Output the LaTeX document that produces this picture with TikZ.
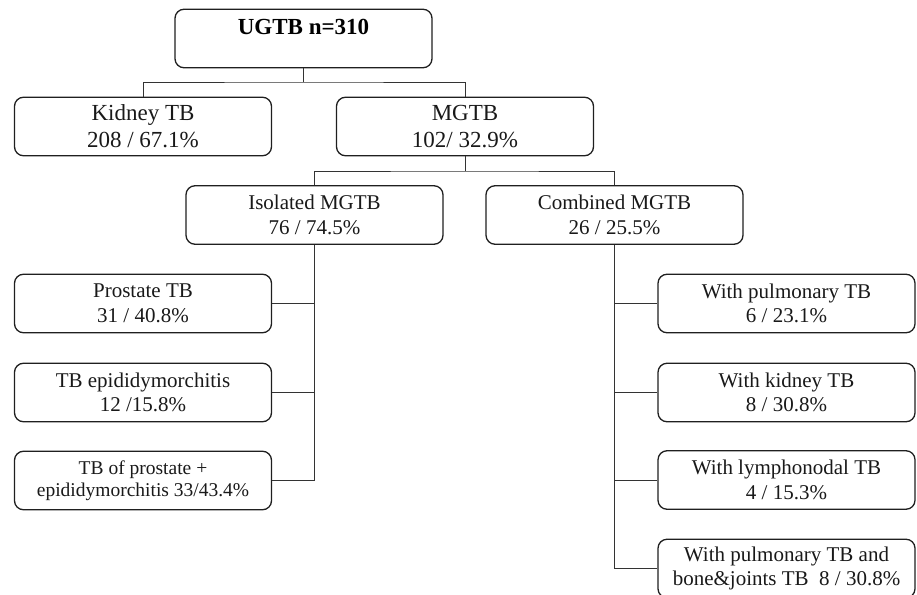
\documentclass[tikz,border=0pt]{standalone}
\usepackage{fontspec}
\setmainfont{Liberation Serif}
\begin{document}
\begin{tikzpicture}[x=1pt,y=1pt,
  box/.style={draw=black!88,line width=1.3pt,rounded corners=9pt,inner sep=0pt,
    minimum width=257pt,minimum height=58.5pt,align=center,text=black!90},
  big/.style={font=\fontsize{23}{27}\selectfont},
  small/.style={font=\fontsize{21}{24.5}\selectfont},
  tiny/.style={font=\fontsize{19.5}{22.5}\selectfont},
  conn/.style={draw=black!80,line width=0.9pt}]
\useasboundingbox (0,0) rectangle (917,-594);
% boxes
\node[box] (top) at (303.5,-38.5) {};
\node[big,anchor=base,font=\fontsize{23}{27}\selectfont\bfseries] (toptext) at (303.5,-35) {UGTB n=310};
\node[box,big] (kid) at (143,-126.5) {Kidney TB\\208 / 67.1\%};
\node[box,big] (mg) at (465,-126.5) {MGTB\\102/ 32.9\%};
\node[box,small] (iso) at (314.5,-215) {Isolated MGTB\\76 / 74.5\%};
\node[box,small] (comb) at (614.5,-215) {Combined MGTB\\26 / 25.5\%};
\node[box,small] (pro) at (143,-303.5) {Prostate TB\\31 / 40.8\%};
\node[box,small] (epi) at (143,-392.5) {TB epididymorchitis\\12 /15.8\%};
\node[box,tiny] (both) at (143,-480.5) {TB of prostate +\\epididymorchitis 33/43.4\%};
\node[box,small] (wpul) at (786.5,-303.5) {With pulmonary TB\\6 / 23.1\%};
\node[box,small] (wkid) at (786.5,-392.5) {With kidney TB\\8 / 30.8\%};
\node[box,small] (wlym) at (786.5,-480) {With lymphonodal TB\\4 / 15.3\%};
\node[box,small] (wbone) at (786.5,-568.5) {With pulmonary TB and\\bone\&joints TB~ 8 / 30.8\%};
% connectors
\coordinate (j1) at (303.5,-82);
\coordinate (j2) at (465,-171);
\draw[conn] (top.south) -- (j1);
\draw[conn] (kid.north) |- (j1) -| (mg.north);
\draw[conn] (mg.south) -- (j2);
\draw[conn] (iso.north) |- (j2) -| (comb.north);
\draw[conn] (iso.south) |- (both.east);
\draw[conn] (iso.south |- pro.east) -- (pro.east);
\draw[conn] (iso.south |- epi.east) -- (epi.east);
\draw[conn] (comb.south) |- (wbone.west);
\draw[conn] (comb.south |- wpul.west) -- (wpul.west);
\draw[conn] (comb.south |- wkid.west) -- (wkid.west);
\draw[conn] (comb.south |- wlym.west) -- (wlym.west);
\end{tikzpicture}
\end{document}
